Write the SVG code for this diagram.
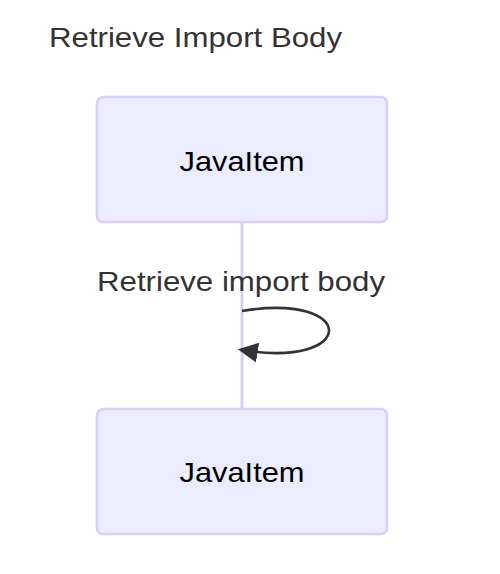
<svg xmlns="http://www.w3.org/2000/svg" width="500" height="574" viewBox="0 0 500 574">
<style>
.actor{fill:#ECECFF;stroke:#D9D0F5;stroke-width:2.5}
.atext{font-family:"Liberation Sans",Arial,sans-serif;font-size:28px;fill:#000;text-anchor:middle}
.title{font-family:"Liberation Sans",Arial,sans-serif;font-size:28px;fill:#333}
.mtext{font-family:"Liberation Sans",Arial,sans-serif;font-size:28px;fill:#333;text-anchor:middle}
.life{stroke:#D9D0F5;stroke-width:3;fill:none}
.msg{stroke:#333;stroke-width:2.6;fill:none}
</style>
<defs>
<marker id="arrowhead" viewBox="0 0 10 10" refX="7.9" refY="5" markerUnits="userSpaceOnUse" markerWidth="20" markerHeight="20" orient="auto">
<path d="M 0 0 L 10 5 L 0 10 z" fill="#333"/>
</marker>
</defs>
<rect width="500" height="574" fill="#fff"/>
<text class="title" x="49" y="47" textLength="293" lengthAdjust="spacingAndGlyphs">Retrieve Import Body</text>
<g id="connectors">
<line class="life" x1="242" y1="223" x2="242" y2="408"/>
<path class="msg" d="M 242,311 C 358,292 358,369 242,350" marker-end="url(#arrowhead)"/>
<text class="mtext" x="241" y="291" textLength="288" lengthAdjust="spacingAndGlyphs">Retrieve import body</text>
</g>
<g id="actor-top">
<rect class="actor" x="97" y="97" width="290" height="125" rx="6"/>
<text class="atext" x="242" y="171" textLength="125" lengthAdjust="spacingAndGlyphs">JavaItem</text>
</g>
<g id="actor-bottom">
<rect class="actor" x="97" y="409" width="290" height="125" rx="6"/>
<text class="atext" x="242" y="482" textLength="125" lengthAdjust="spacingAndGlyphs">JavaItem</text>
</g>
</svg>
